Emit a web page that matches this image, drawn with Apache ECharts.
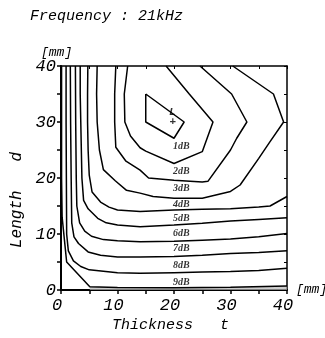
<!DOCTYPE html>
<html><head><meta charset="utf-8">
<script src="https://cdn.jsdelivr.net/npm/echarts@6/dist/echarts.min.js"></script>
<style>html,body{margin:0;padding:0;background:#fff}#c{width:325px;height:338px}</style>
</head><body><div id="c"></div>
<script>
// ---- data (Thickness t [mm], Length d [mm]) ----
const titleText = 'Frequency : 21kHz';
const xTicks = [0, 10, 20, 30, 40];
const yTicks = [0, 10, 20, 30, 40];
const minLossLoop = [[15,35],[15,30],[20,27.1],[21.8,30],[15,35]];
const level1 = [[11.8,40],[11.2,35],[11.3,30],[12.3,27.5],[14,25.4],[15,24.8],[20,22.6],[25,24.7],[26.9,30],[22.7,35],[18.6,40]];
const level2 = [[9.7,40],[9.5,35],[9.5,30],[9.7,25.5],[11.5,23],[14,21.4],[15.5,20],[20,19.6],[25,19.3],[26,19.4],[30,25],[31.1,27.1],[32.9,30],[30.2,35],[24.6,40]];
const level3 = [[6.4,40],[6.3,35],[6.4,30],[6.8,25],[7.5,21.5],[9.6,19.5],[11.6,17.8],[14,17.3],[16.3,16.7],[20,16.4],[25,16.4],[30,17.6],[31.7,18.75],[35,23.5],[37,26.5],[39.4,30],[37.6,35],[30.4,40]];
const level4 = [[4.75,40],[4.7,35],[4.7,30],[4.8,25],[5,20.5],[5.5,17.5],[7,15.7],[8.5,14.8],[10,14.3],[14,14],[20,14.3],[25,14.4],[30,14.5],[35,14.8],[37,15],[40,16.7]];
const level5 = [[3.4,40],[3.4,35],[3.5,30],[3.6,25],[3.7,20],[4,16],[4.8,14.5],[6.5,12.8],[8,12],[10,11.6],[14,11.3],[20,11.6],[25,11.9],[30,12.3],[35,12.6],[40,12.9]];
const level6 = [[2.55,40],[2.6,30],[2.7,20],[2.8,15],[3.3,12],[4.2,10.5],[5.4,9.6],[7.5,9],[10,8.8],[14,8.6],[20,8.7],[25,8.9],[30,9.1],[35,9.5],[40,10.1]];
const level7 = [[1.65,40],[1.7,30],[1.8,20],[1.9,12],[2.3,9.5],[3.1,8.3],[4.8,6.8],[7,6.2],[10,5.9],[14,5.9],[20,6],[25,6.2],[30,6.5],[35,6.7],[40,7]];
const level8 = [[0.9,40],[0.9,30],[0.95,20],[1,10],[1.3,7],[2.2,5.2],[3.5,4.2],[5,3.6],[10,3.1],[14,3],[20,3.1],[25,3.2],[30,3.3],[35,3.5],[40,3.9]];
const level9 = [[0.1,40],[0.1,20],[0.2,13],[1,5],[5.1,0.6],[10,0.45],[20,0.4],[30,0.5],[40,0.7]];
const levelNames = ['1dB','2dB','3dB','4dB','5dB','6dB','7dB','8dB','9dB'];
const labelT = [21.3,21.3,21.3,21.3,21.3,21.3,21.3,21.3,21.3];
const labelD = [25.6,21.1,18.2,15.2,12.8,10.1,7.4,4.3,1.4];
const minMarkT = [19.7, 19.8];
const minMarkD = [31.8, 30.0];
const minMarkText = ['L', '+'];

// ---- chart ----
const levels = [level1, level2, level3, level4, level5, level6, level7, level8, level9];
const FONT = '"Liberation Mono", "DejaVu Sans Mono", monospace';
const chart = echarts.init(document.getElementById('c'), null, {renderer: 'canvas'});
const lineSeries = [minLossLoop].concat(levels).map(function (pts) {
  return {
    type: 'line', data: pts, symbol: 'none', silent: true, animation: false,
    lineStyle: {color: '#000', width: 1.5}, z: 3
  };
});
const band = {
  type: 'line', data: level9.filter(function (p) { return p[0] >= 5; }), symbol: 'none', silent: true,
  animation: false, lineStyle: {width: 0}, areaStyle: {color: '#b8b8b8', origin: 'start'}, z: 2
};
const labelSeries = {
  type: 'scatter', symbolSize: 0, silent: true, animation: false, z: 5,
  data: levelNames.map(function (n, i) { return [labelT[i], labelD[i], n]; }),
  label: {
    show: true, position: 'inside', formatter: function (p) { return p.value[2]; },
    fontFamily: '"Liberation Serif", serif', fontStyle: 'italic', fontWeight: 'bold',
    fontSize: 10, color: '#000'
  }
};
const markSeries = {
  type: 'scatter', symbolSize: 0, silent: true, animation: false, z: 5,
  data: minMarkText.map(function (s, i) { return [minMarkT[i], minMarkD[i], s]; }),
  label: {
    show: true, position: 'inside', formatter: function (p) { return p.value[2]; },
    fontFamily: FONT, fontStyle: 'italic', fontWeight: 'bold', fontSize: 11, color: '#000'
  }
};
const tickLabel = {
  fontFamily: FONT, fontStyle: 'italic', fontSize: 17, color: '#000'
};
chart.setOption({
  animation: false,
  grid: {left: 61, right: 38, top: 66, bottom: 48, show: false},
  xAxis: [{
    type: 'value', min: 0, max: 40, interval: 10, position: 'bottom',
    axisLine: {show: true, onZero: false, lineStyle: {color: '#000', width: 2}},
    axisTick: {show: true, inside: false, length: 4, lineStyle: {color: '#000', width: 1.5}},
    minorTick: {show: true, splitNumber: 2, length: 4, lineStyle: {color: '#000', width: 1.5}},
    splitLine: {show: false},
    axisLabel: Object.assign({margin: 7, padding: [0, 8, 0, 0],
      formatter: function (v) { return xTicks.indexOf(v) >= 0 ? String(v) : ''; }}, tickLabel)
  }, {
    type: 'value', min: 0, max: 40, interval: 10, position: 'top',
    axisLine: {show: true, onZero: false, lineStyle: {color: '#000', width: 1.5}},
    axisTick: {show: true, inside: true, length: 3, lineStyle: {color: '#000'}},
    minorTick: {show: true, splitNumber: 2, length: 3, lineStyle: {color: '#000'}},
    axisLabel: {show: false}, splitLine: {show: false}
  }],
  yAxis: [{
    type: 'value', min: 0, max: 40, interval: 10, position: 'left',
    axisLine: {show: true, onZero: false, lineStyle: {color: '#000', width: 2}},
    axisTick: {show: true, inside: false, length: 4, lineStyle: {color: '#000', width: 1.5}},
    minorTick: {show: true, splitNumber: 2, length: 4, lineStyle: {color: '#000', width: 1.5}},
    splitLine: {show: false},
    axisLabel: Object.assign({margin: 5,
      formatter: function (v) { return yTicks.indexOf(v) >= 0 ? String(v) : ''; }}, tickLabel)
  }, {
    type: 'value', min: 0, max: 40, interval: 10, position: 'right',
    axisLine: {show: true, onZero: false, lineStyle: {color: '#000', width: 1.5}},
    axisTick: {show: true, inside: true, length: 3, lineStyle: {color: '#000'}},
    minorTick: {show: true, splitNumber: 2, length: 3, lineStyle: {color: '#000'}},
    axisLabel: {show: false}, splitLine: {show: false}
  }],
  graphic: [
    {type: 'text', left: 30, top: 9, silent: true,
      style: {text: titleText, font: 'italic 15px ' + FONT, fill: '#000'}},
    {type: 'text', left: 41, top: 46, silent: true,
      style: {text: '[mm]', font: 'italic 13px ' + FONT, fill: '#000'}},
    {type: 'text', left: 296, top: 283, silent: true,
      style: {text: '[mm]', font: 'italic 13px ' + FONT, fill: '#000'}},
    {type: 'text', left: 112, top: 318, silent: true,
      style: {text: 'Thickness   t', font: 'italic 15px ' + FONT, fill: '#000'}},
    {type: 'text', x: 17, y: 200, rotation: Math.PI / 2, silent: true,
      style: {text: 'Length   d', font: 'italic 16px ' + FONT, fill: '#000', align: 'center', verticalAlign: 'middle'}}
  ],
  series: [band].concat(lineSeries, [labelSeries, markSeries])
});
</script>
</body></html>
